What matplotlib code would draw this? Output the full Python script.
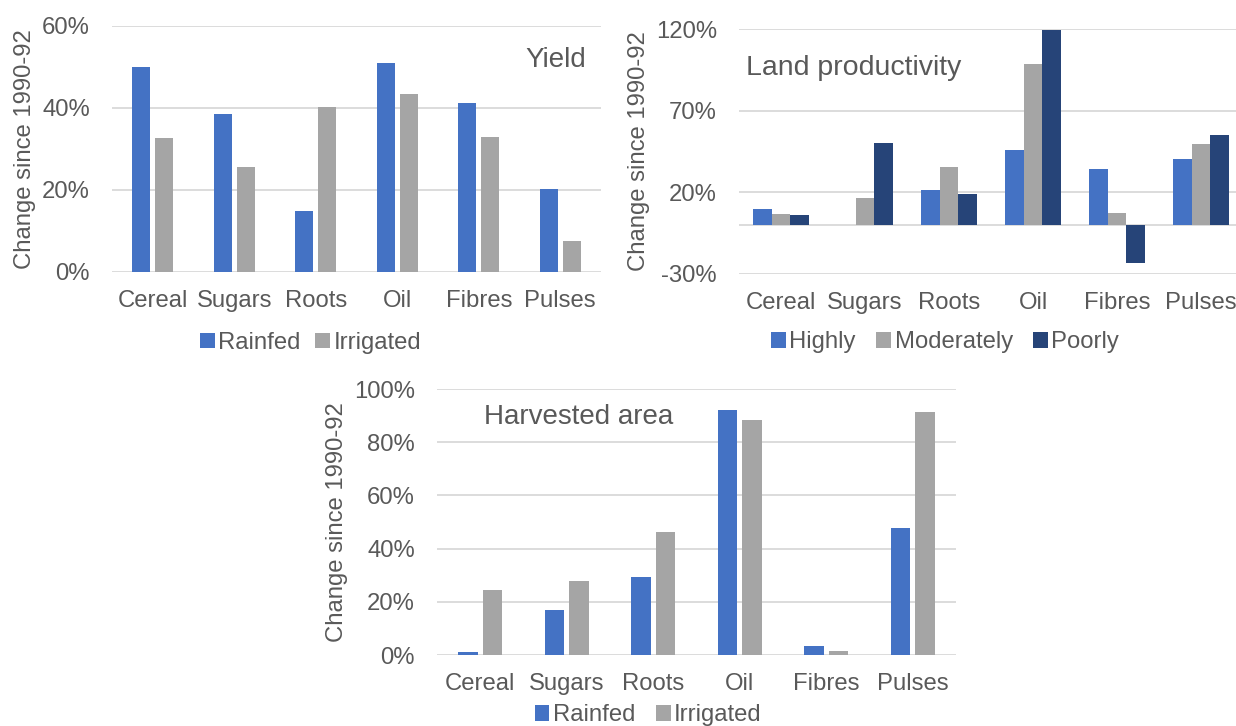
import numpy as np
import matplotlib.pyplot as plt

plt.rcParams['font.family'] = ['Liberation Sans', 'DejaVu Sans']

crops = ['Cereal', 'Sugars', 'Roots', 'Oil', 'Fibres', 'Pulses']

# yield change since 1990-92 (%)
yield_rainfed = [50.0, 38.6, 15.0, 50.9, 41.1, 20.2]
yield_irrigated = [32.8, 25.5, 40.3, 43.5, 33.0, 7.6]

# land productivity change (%)
lp_highly = [10.0, 0.0, 21.7, 45.9, 34.3, 40.2]
lp_moderately = [6.9, 16.7, 35.8, 98.8, 7.3, 49.4]
lp_poorly = [6.1, 50.4, 19.1, 119.5, -23.0, 55.3]

# harvested area change (%)
area_rainfed = [1.1, 17.0, 29.4, 92.1, 3.4, 47.7]
area_irrigated = [24.5, 27.9, 46.4, 88.2, 1.6, 91.2]

BLUE = '#4472C4'
GREY = '#A5A5A5'
NAVY = '#264478'
TXT = '#595959'
GRID = '#D9D9D9'
FS = 17.2

W, H = 1236, 726


def px_axes(fig, left, right, top, bottom):
    return fig.add_axes([left / W, (H - bottom) / H, (right - left) / W, (bottom - top) / H])


def style(ax, ylim, yticks):
    ax.set_ylim(*ylim)
    ax.set_xlim(-0.5, 5.5)
    ax.set_yticks(yticks)
    ax.set_yticklabels([f'{t}%' for t in yticks])
    ax.set_xticks(range(len(crops)))
    ax.set_xticklabels(crops)
    for s in ax.spines.values():
        s.set_visible(False)
    ax.grid(axis='y', color=GRID, lw=1.3)
    ax.set_axisbelow(True)
    ax.tick_params(length=0, labelsize=FS, colors=TXT)
    ax.tick_params(axis='y', pad=16)
    ax.tick_params(axis='x', pad=13)
    ax.set_ylabel('Change since 1990-92', fontsize=FS, color=TXT, labelpad=4)


def legend(ax, cx, y, spacing):
    leg = ax.legend(loc='upper center', bbox_to_anchor=(cx, y), ncol=3, frameon=False,
                    fontsize=FS, handlelength=0.62, handleheight=0.62, handletextpad=0.15,
                    columnspacing=spacing, borderaxespad=0)
    for t in leg.get_texts():
        t.set_color(TXT)


fig = plt.figure(figsize=(W / 100, H / 100), dpi=100)
x = np.arange(len(crops))
bw = 0.225
off = 0.142

# Yield
ax1 = px_axes(fig, 112, 601, 26, 272)
ax1.bar(x - off, yield_rainfed, bw, color=BLUE, label='Rainfed')
ax1.bar(x + off, yield_irrigated, bw, color=GREY, label='Irrigated')
style(ax1, (0, 60), [0, 20, 40, 60])
ax1.text(0.97, 0.862, 'Yield', transform=ax1.transAxes, ha='right', va='center',
         fontsize=20, color=TXT)
legend(ax1, 0.406, -0.205, 0.6)

# Land productivity (chart runs past the right edge of the picture)
ax2 = px_axes(fig, 739, 1243, 29, 274)
bw2 = 0.22
ax2.bar(x - bw2, lp_highly, bw2, color=BLUE, label='Highly')
ax2.bar(x, lp_moderately, bw2, color=GREY, label='Moderately')
ax2.bar(x + bw2, lp_poorly, bw2, color=NAVY, label='Poorly')
style(ax2, (-30, 120), [-30, 20, 70, 120])
ax2.axhline(0, color=GRID, lw=1.3, zorder=0.5)
ax2.text(0.013, 0.84, 'Land productivity', transform=ax2.transAxes, ha='left', va='center',
         fontsize=20.5, color=TXT)
legend(ax2, 0.409, -0.195, 0.85)

# Harvested area
ax3 = px_axes(fig, 437, 956, 389, 655)
ax3.bar(x - off, area_rainfed, bw, color=BLUE, label='Rainfed')
ax3.bar(x + off, area_irrigated, bw, color=GREY, label='Irrigated')
style(ax3, (0, 100), [0, 20, 40, 60, 80, 100])
ax3.text(0.09, 0.895, 'Harvested area', transform=ax3.transAxes, ha='left', va='center',
         fontsize=20, color=TXT)
legend(ax3, 0.407, -0.15, 0.85)

fig.savefig('out.png', dpi=100)
